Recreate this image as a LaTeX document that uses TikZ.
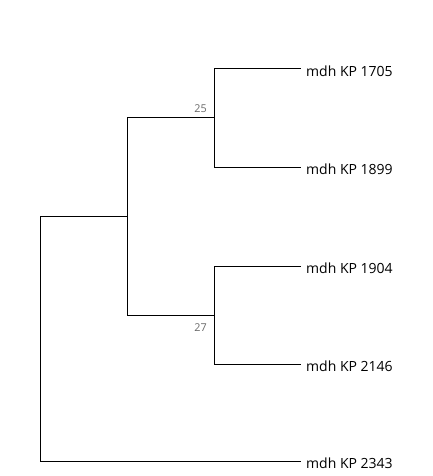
\documentclass[tikz,border=0pt]{standalone}
\usepackage{fontspec}
\setmainfont{Open Sans}
\definecolor{suppgray}{RGB}{105,105,105}
\begin{document}
\begin{tikzpicture}[x=1pt,y=-1pt,
  branch/.style={line width=1pt,line cap=rect},
  leaflabel/.style={anchor=west,inner sep=0pt,font=\fontsize{14}{16}\selectfont},
  support/.style={inner sep=0pt,text=suppgray,font=\fontsize{10.8}{12}\selectfont}]
\useasboundingbox (0,0) rectangle (432,476);
% internal nodes
\coordinate (root) at (40,216);
\coordinate (n1) at (127,216);
\coordinate (n2) at (214,118);
\coordinate (n3) at (214,315);
% leaf tips
\coordinate (t1) at (300,69);
\coordinate (t2) at (300,167);
\coordinate (t3) at (300,266);
\coordinate (t4) at (300,364);
\coordinate (t5) at (300,461);
% labels
\node[leaflabel] (l1) at (306,71) {mdh KP 1705};
\node[leaflabel] (l2) at (306,169) {mdh KP 1899};
\node[leaflabel] (l3) at (306,268) {mdh KP 1904};
\node[leaflabel] (l4) at (306,366) {mdh KP 2146};
\node[leaflabel] (l5) at (306,463) {mdh KP 2343};
% branches
\draw[branch] (root) -- (n1);
\draw[branch] (root) |- (t5);
\draw[branch] (n1 |- n2) -- (n2);
\draw[branch] (n1 |- n2) -- (n1 |- n3) -- (n3);
\draw[branch] (n2 |- t1) -- (n2 |- t2);
\draw[branch] (n2 |- t1) -- (t1);
\draw[branch] (n2 |- t2) -- (t2);
\draw[branch] (n3 |- t3) -- (n3 |- t4);
\draw[branch] (n3 |- t3) -- (t3);
\draw[branch] (n3 |- t4) -- (t4);
% support values
\node[support,anchor=east] (s1) at (207,108.8) {25};
\node[support,anchor=east] (s2) at (207,327.5) {27};
\end{tikzpicture}
\end{document}
